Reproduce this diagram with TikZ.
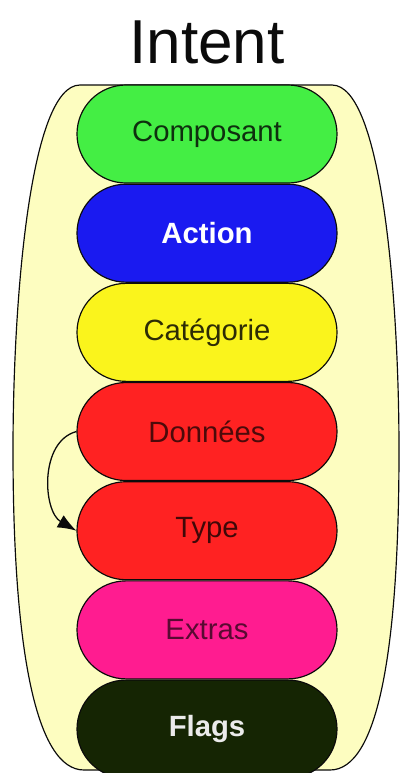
\documentclass[tikz,border=0pt]{standalone}
\usepackage{fontspec}
\setmainfont{Liberation Sans}
\usetikzlibrary{arrows.meta,positioning,shapes.misc}
\definecolor{shell}{HTML}{FDFDC0}
\definecolor{green1}{HTML}{44EE44}
\definecolor{blue1}{HTML}{1A1AF0}
\definecolor{yellow1}{HTML}{FAF41C}
\definecolor{red1}{HTML}{FF2222}
\definecolor{pink1}{HTML}{FF1C90}
\definecolor{night1}{HTML}{152503}
\definecolor{ink}{HTML}{0B0B0B}

\begin{document}
\begin{tikzpicture}[x=0.03cm,y=-0.03cm,
    pill/.style={rounded rectangle,draw=ink,line width=1pt,
                 minimum width=7.8cm,minimum height=2.94cm,inner sep=0pt,
                 font=\fontsize{25}{30}\selectfont}]
  \useasboundingbox (0,0) rectangle (403,773);
  % title
  \node[font=\fontsize{53}{60}\selectfont,color=ink] (title) at (207,42) {Intent};
  % outer shell
  \draw[ink,line width=1pt,fill=shell]
    (80,85) -- (332,85) .. controls (382,85) and (399,300) .. (399,450)
    .. controls (399,650) and (378,770) .. (330,770) -- (84,770)
    .. controls (36,770) and (13,650) .. (13,450)
    .. controls (13,300) and (30,85) .. (80,85) -- cycle;
  % fields of the intent
  \node[pill,fill=green1,text=green1!20!black] (composant) at (207,134) {Composant};
  \node[pill,fill=blue1,text=white,below=0pt of composant] (action) {\bfseries Action};
  \node[pill,fill=yellow1,text=yellow1!18!black,below=0pt of action] (categorie) {Catégorie};
  \node[pill,fill=red1,text=red1!30!black,below=0pt of categorie] (donnees) {Données};
  \node[pill,fill=red1,text=red1!25!black,below=0pt of donnees] (type) {Type};
  \node[pill,fill=pink1,text=pink1!35!black,below=0pt of type] (extras) {Extras};
  \node[pill,fill=night1,text=white!92!black,below=0pt of extras] (flags) {\bfseries Flags};
  % data implies type
  \draw[ink,line width=1.1pt,-{Latex[length=16pt,width=12pt]}]
    (donnees.west) to[out=195,in=150] (type.west);
\end{tikzpicture}
\end{document}
